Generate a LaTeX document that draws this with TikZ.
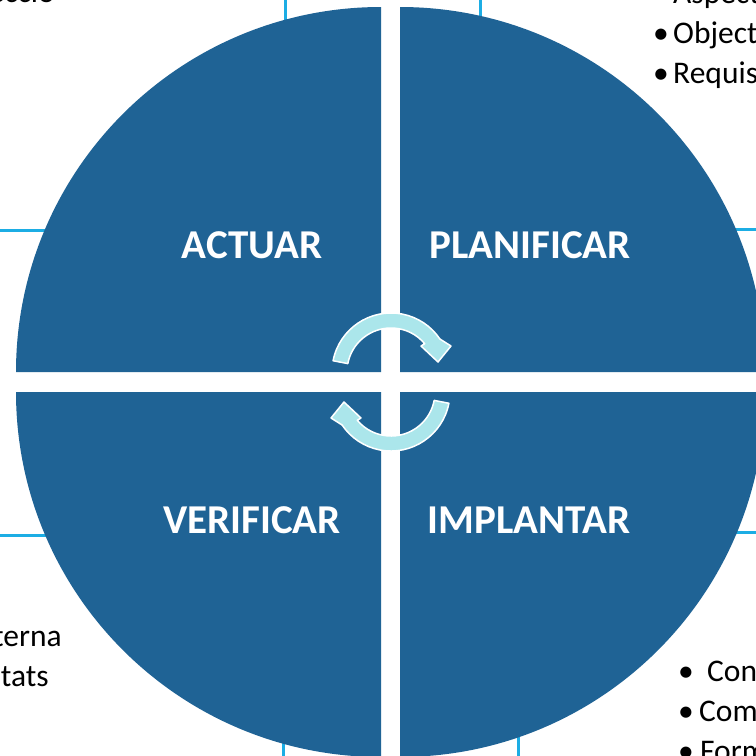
\documentclass[tikz,border=0pt]{standalone}
\usepackage{fontspec}
\setmainfont{Carlito}
\definecolor{qblue}{HTML}{1F6395}
\definecolor{boxcyan}{HTML}{1CADE4}
\definecolor{arrowcyan}{HTML}{ABE6EB}
\begin{document}
\begin{tikzpicture}[x=1pt,y=-1pt,
  quad/.style={fill=qblue},
  boxline/.style={draw=boxcyan,line width=3pt,fill=white},
  cyc/.style={fill=arrowcyan,draw=white,line width=1.5pt,line join=round},
  lab/.style={text=white,font=\fontsize{41}{49}\selectfont\bfseries,anchor=base,inner sep=0pt},
  body/.style={text=black,font=\fontsize{31.5}{38}\selectfont,inner sep=0pt}]
\clip (0,0) rectangle (756,756);
\fill[white] (0,0) rectangle (756,756);
% boxes behind the circle
\draw[boxline] (-20,-20) rectangle (285,230);
\draw[boxline] (480,-20) rectangle (780,229);
\draw[boxline] (-20,535) rectangle (283,780);
\draw[boxline] (518,532) rectangle (780,780);
% quadrants
\fill[quad] (381,372) -- (16,372) arc[start angle=180,end angle=270,radius=365] -- cycle;
\fill[quad] (400,372) -- (400,7) arc[start angle=270,end angle=360,radius=365] -- cycle;
\fill[quad] (381,392) -- (381,757) arc[start angle=90,end angle=180,radius=365] -- cycle;
\fill[quad] (400,392) -- (765,392) arc[start angle=0,end angle=90,radius=365] -- cycle;
% cycle arrows
\path[cyc] ([shift={(391,372)}]191:59) arc[start angle=191,end angle=326,radius=59]
  -- (451,346) -- (438,362) -- (421,346)
  -- ([shift={(391,372)}]320:44) arc[start angle=320,end angle=191,radius=44] -- cycle;
\path[cyc,rotate around={180:(391,382)}] ([shift={(391,372)}]191:59) arc[start angle=191,end angle=326,radius=59]
  -- (451,346) -- (438,362) -- (421,346)
  -- ([shift={(391,372)}]320:44) arc[start angle=320,end angle=191,radius=44] -- cycle;
% labels
\node[lab] (actuar) at (252,258) {ACTUAR};
\node[lab] (planificar) at (530,258) {PLANIFICAR};
\node[lab] (verificar) at (252,533) {VERIFICAR};
\node[lab] (implantar) at (529,533) {IMPLANTAR};
% texts in boxes
\node[body,anchor=base east] (tl1) at (55,2.5) {• Revisió per la direcció};
\node[body,anchor=base west] (tr0) at (673,3) {Aspectes ambientals};
\node[body,anchor=base west] (tr1) at (653,43) {\makebox[20pt][l]{•}Objectius};
\node[body,anchor=base west] (tr2) at (653,83) {\makebox[20pt][l]{•}Requisits legals};
\node[body,anchor=base east] (bl1) at (62,646) {• Auditoria interna};
\node[body,anchor=base east] (bl2) at (49,686) {• Anàlisi de resultats};
\node[body,anchor=base west] (br1) at (678,681) {\makebox[29pt][l]{•}Control operacional};
\node[body,anchor=base west] (br2) at (678,721) {\makebox[21pt][l]{•}Comunicació};
\node[body,anchor=base west] (br3) at (678,761) {\makebox[22pt][l]{•}Formació};
\end{tikzpicture}
\end{document}
